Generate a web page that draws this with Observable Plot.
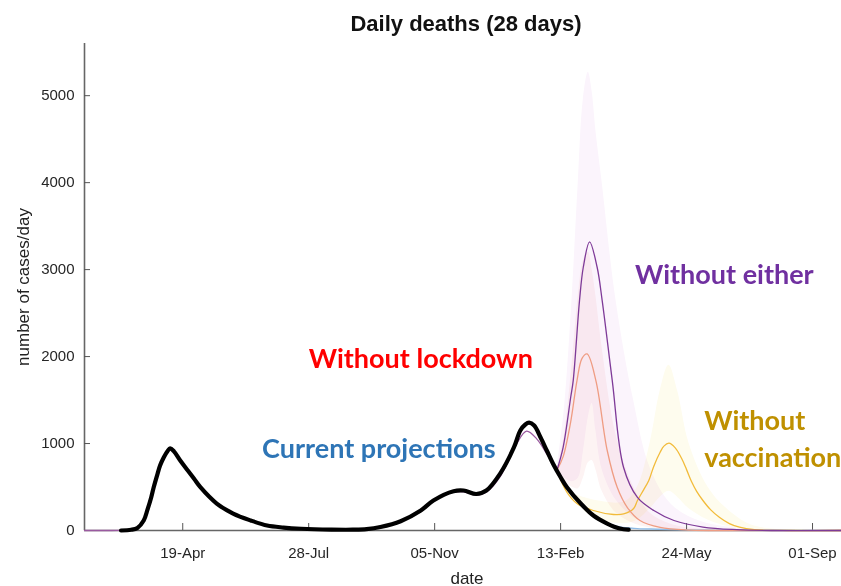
<!DOCTYPE html>
<html><head><meta charset="utf-8">
<script src="https://cdn.jsdelivr.net/npm/d3@7"></script>
<script src="https://cdn.jsdelivr.net/npm/@observablehq/plot@0.6"></script>
<style>
body{margin:0;background:#fff;}
#title{box-sizing:border-box;width:841px;height:36px;padding-top:13px;padding-left:91px;text-align:center;font:bold 22px/22px "Liberation Sans",Arial,sans-serif;color:#111;}
</style>
</head><body>
<div id="title">Daily deaths (28 days)</div>
<div id="chart"></div>
<script>
const xTicks = ["2020-04-19","2020-07-28","2020-11-05","2021-02-13","2021-05-24","2021-09-01"];
const yTicks = [0,1000,2000,3000,4000,5000];

// observed / current (black)
const observedDates = ["2020-03-01","2020-03-09","2020-03-14","2020-03-19","2020-03-22","2020-03-25","2020-03-27","2020-03-30","2020-04-01","2020-04-04","2020-04-07","2020-04-09","2020-04-12","2020-04-17","2020-04-23","2020-04-28","2020-05-03","2020-05-16","2020-05-29","2020-06-12","2020-06-25","2020-07-08","2020-07-22","2020-08-15","2020-09-01","2020-09-12","2020-09-23","2020-10-09","2020-10-25","2020-11-04","2020-11-20","2020-11-28","2020-12-08","2020-12-16","2020-12-27","2021-01-07","2021-01-12","2021-01-16","2021-01-19","2021-01-23","2021-01-28","2021-02-02","2021-02-07","2021-02-13","2021-02-18","2021-03-01","2021-03-11","2021-03-22","2021-04-01","2021-04-08"];
const observed = [0,8,30,115,240,383,500,652,748,843,915,945,910,805,690,594,498,310,195,115,57,34,20,10,9,15,40,107,230,345,452,460,420,460,655,958,1150,1219,1240,1207,1073,920,767,612,498,310,172,80,23,10];

// model fit shared by all scenarios before they diverge
const fitDates = ["2020-02-01","2020-03-01","2020-03-09","2020-03-14","2020-03-19","2020-03-22","2020-03-25","2020-03-27","2020-03-30","2020-04-01","2020-04-04","2020-04-07","2020-04-09","2020-04-12","2020-04-17","2020-04-23","2020-04-28","2020-05-03","2020-05-16","2020-05-29","2020-06-12","2020-06-25","2020-07-08","2020-07-22","2020-08-15","2020-09-01","2020-09-12","2020-09-23","2020-10-09","2020-10-25","2020-11-04","2020-11-20","2020-11-28","2020-12-08","2020-12-16","2020-12-27","2021-01-09","2021-01-17","2021-01-25","2021-02-02","2021-02-10"];
const fitValues = [0,2,8,35,120,240,385,500,650,745,840,910,940,905,800,690,594,495,310,195,115,57,34,20,10,9,15,40,107,230,340,440,445,405,440,620,997,1142,1054,882,690];

// scenarios after divergence
const eitherDates = ["2021-02-10","2021-02-15","2021-02-21","2021-02-23","2021-02-28","2021-03-03","2021-03-08","2021-03-14","2021-03-18","2021-03-26","2021-04-04","2021-04-15","2021-04-28","2021-05-14","2021-06-06","2021-07-03","2021-08-01","2021-09-24"];
const either = [690,957,1532,1724,2644,3027,3320,3027,2644,1724,724,380,230,115,40,10,0,0];

const lockdownDates = ["2021-02-10","2021-02-15","2021-02-21","2021-02-26","2021-03-02","2021-03-06","2021-03-13","2021-03-22","2021-03-30","2021-04-07","2021-04-17","2021-05-03","2021-05-27","2021-07-01","2021-09-24"];
const lockdown = [690,850,1250,1724,1980,2030,1724,920,494,264,115,35,5,0,0];

const vaccDates = ["2021-02-10","2021-02-18","2021-02-26","2021-03-11","2021-03-27","2021-04-04","2021-04-12","2021-04-15","2021-04-20","2021-04-24","2021-04-28","2021-05-03","2021-05-06","2021-05-10","2021-05-15","2021-05-20","2021-05-24","2021-05-28","2021-06-01","2021-06-06","2021-06-12","2021-06-19","2021-06-27","2021-07-05","2021-07-17","2021-08-15","2021-09-24"];
const vacc = [690,440,310,230,184,190,253,345,470,575,740,900,970,1004,950,830,700,560,450,345,240,153,80,38,10,0,0];

const currentDates = ["2021-02-10","2021-02-18","2021-03-01","2021-03-11","2021-03-22","2021-04-01","2021-04-15","2021-05-01","2021-05-20","2021-06-15","2021-09-24"];
const current = [690,480,300,170,85,40,22,15,8,2,0];

// uncertainty bands
const bandDates = ["2021-02-10","2021-02-16","2021-02-22","2021-02-27","2021-03-03","2021-03-07","2021-03-10","2021-03-13","2021-03-18","2021-03-29","2021-04-12","2021-04-25","2021-05-12","2021-06-05","2021-07-10","2021-08-15","2021-09-24"];
const eitherUpper = [700,1400,2644,4000,4950,5268,5050,4600,4000,2644,1494,724,300,100,20,0,0];
const eitherLower = [650,600,560,600,900,1300,1460,1150,700,350,150,60,20,5,0,0,0];
const lockdownUpper = [690,1100,1900,2700,3100,3200,3000,2700,2100,1100,500,200,70,15,0,0,0];
const lockdownLower = [640,560,500,480,600,780,805,700,450,200,80,30,8,0,0,0,0];
const vaccBandDates = ["2021-02-18","2021-03-11","2021-04-05","2021-04-15","2021-04-25","2021-05-03","2021-05-10","2021-05-17","2021-05-26","2021-06-10","2021-06-25","2021-07-15","2021-08-15"];
const vaccUpper = [450,350,330,500,1000,1600,1900,1600,1000,500,250,60,0];
const vaccLower = [420,150,80,120,250,380,450,380,250,120,50,12,0];

// annotation anchors (date, value at text baseline)
const labelTexts = ["Without either","Without lockdown","Current projections","Without","vaccination"];
const labelDates = ["2021-04-13","2020-07-28","2020-06-21","2021-06-07","2021-06-07"];
const labelValues = [2840,1863,839,1150,728];
const labelColors = ["#7030A0","#FF0000","#2E75B6","#BF9000","#BF9000"];

const P = d3.utcParse("%Y-%m-%d");
const series = (dates, vals) => dates.map((d, i) => ({date: P(d), value: vals[i]}));
const band = (dates, lo, hi) => dates.map((d, i) => ({date: P(d), lo: lo[i], hi: hi[i]}));
const labels = labelTexts.map((t, i) => ({text: t, date: P(labelDates[i]), value: labelValues[i], color: labelColors[i]}));

const curve = "catmull-rom";
const lineOf = (data, stroke, w) => Plot.line(data, {x: "date", y: "value", stroke, strokeWidth: w, curve});
const areaOf = (data, fill) => Plot.areaY(data, {x: "date", y1: "lo", y2: "hi", fill, curve, mixBlendMode: "multiply"});

const frameW = 841 - 84, frameH = 550 - 7 - 56;

const chart = Plot.plot({
  width: 841, height: 550,
  marginTop: 7, marginBottom: 56, marginLeft: 84, marginRight: 0,
  style: {fontFamily: "'Liberation Sans', Arial, sans-serif", fontSize: "15px", color: "#262626", background: "white", overflow: "visible"},
  x: {type: "utc", domain: [P("2020-02-01"), P("2021-09-24")], ticks: xTicks.map(P), tickFormat: d3.utcFormat("%d-%b"), tickSize: 0, tickPadding: 17, label: null},
  y: {domain: [0, 5600], ticks: yTicks, tickFormat: d => String(d), tickSize: 0, tickPadding: 10, label: null},
  marks: [
    areaOf(band(vaccBandDates, vaccLower, vaccUpper), "#fefcee"),
    areaOf(band(bandDates, lockdownLower, lockdownUpper), "#fdf3f3"),
    areaOf(band(bandDates, eitherLower, eitherUpper), "#fbf4fc"),
    Plot.ruleY([0], {stroke: "#666", strokeWidth: 1.6}),
    Plot.ruleX([P("2020-02-01")], {stroke: "#666", strokeWidth: 1.6}),
    Plot.tickX(xTicks.map(P), {x: d => d, insetTop: frameH - 7, stroke: "#555", strokeWidth: 1}),
    Plot.tickY(yTicks, {y: d => d, insetRight: frameW - 6, stroke: "#555", strokeWidth: 1}),
    lineOf(series(currentDates, current), "#8fbbe6", 1.4),
    lineOf(series(vaccDates, vacc), "#f2bb3a", 1.3),
    lineOf(series(lockdownDates, lockdown), "#ef9c82", 1.3),
    lineOf(series(eitherDates, either), "#7e3a98", 1.3),
    lineOf(series(fitDates, fitValues), "#9a5aa0", 1.3),
    Plot.line(series(observedDates, observed), {x: "date", y: "value", stroke: "#000", strokeWidth: 4.2, curve, strokeLinecap: "round"}),
    Plot.text(labels, {x: "date", y: "value", text: "text", fill: "color", textAnchor: "start", lineAnchor: "bottom", fontFamily: "Lato, 'Open Sans', sans-serif", fontWeight: "bold", fontSize: 27}),
    Plot.text(["number of cases/day"], {text: d => d, frameAnchor: "left", textAnchor: "middle", dx: -61, rotate: -90, fontSize: 17, fill: "#222"}),
    Plot.text(["date"], {text: d => d, frameAnchor: "bottom", dx: 4, dy: 53, lineAnchor: "bottom", fontSize: 17, fill: "#222"})
  ]
});
document.getElementById("chart").appendChild(chart);
</script>
</body></html>
